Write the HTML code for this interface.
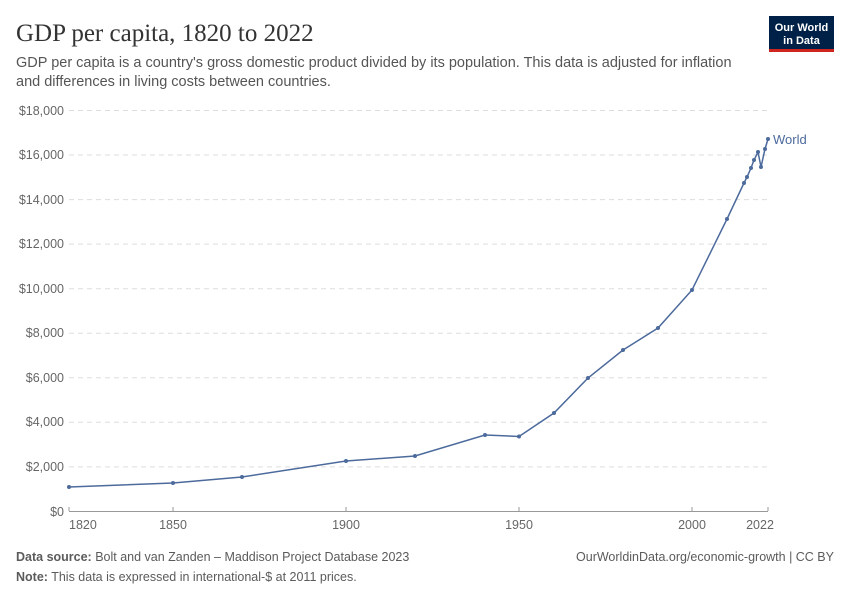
<!DOCTYPE html>
<html><head><meta charset="utf-8"><style>
body{margin:0;background:#fff;width:850px;height:600px;overflow:hidden;font-family:"Liberation Sans",sans-serif}
</style></head><body>
<svg width="850" height="600" xmlns="http://www.w3.org/2000/svg" font-family="Liberation Sans, sans-serif">
<text x="16" y="41" font-family="Liberation Serif, serif" font-size="25" fill="#333">GDP per capita, 1820 to 2022</text>
<text x="16" y="67" font-size="14.5" fill="#555">GDP per capita is a country's gross domestic product divided by its population. This data is adjusted for inflation</text>
<text x="16" y="86" font-size="14.5" fill="#555">and differences in living costs between countries.</text>
<rect x="769" y="16" width="65" height="34" fill="#002147"/>
<rect x="769" y="49" width="65" height="3" fill="#ce261e"/>
<text x="801.5" y="31" font-size="11" font-weight="bold" fill="#fff" text-anchor="middle">Our World</text>
<text x="801.5" y="44" font-size="11" font-weight="bold" fill="#fff" text-anchor="middle">in Data</text>
<g stroke="#ddd" stroke-dasharray="5,4" stroke-width="1">
<line x1="69" x2="768" y1="110.5" y2="110.5"/><line x1="69" x2="768" y1="155" y2="155"/>
<line x1="69" x2="768" y1="199.6" y2="199.6"/><line x1="69" x2="768" y1="244.1" y2="244.1"/>
<line x1="69" x2="768" y1="288.7" y2="288.7"/><line x1="69" x2="768" y1="333.2" y2="333.2"/>
<line x1="69" x2="768" y1="377.8" y2="377.8"/><line x1="69" x2="768" y1="422.3" y2="422.3"/>
<line x1="69" x2="768" y1="466.9" y2="466.9"/>
</g>
<line x1="69" x2="768" y1="511.5" y2="511.5" stroke="#999"/>
<g font-size="12.5" fill="#666" text-anchor="end">
<text x="64" y="115">$18,000</text><text x="64" y="159">$16,000</text><text x="64" y="204">$14,000</text>
<text x="64" y="248">$12,000</text><text x="64" y="293">$10,000</text><text x="64" y="337">$8,000</text>
<text x="64" y="382">$6,000</text><text x="64" y="426">$4,000</text><text x="64" y="471">$2,000</text>
<text x="64" y="516">$0</text>
</g>
<g stroke="#999"><line x1="69" x2="69" y1="507" y2="511"/><line x1="173" x2="173" y1="507" y2="511"/><line x1="346" x2="346" y1="507" y2="511"/><line x1="519" x2="519" y1="507" y2="511"/><line x1="692" x2="692" y1="507" y2="511"/><line x1="768" x2="768" y1="507" y2="511"/></g>
<g font-size="12.5" fill="#666" text-anchor="middle">
<text x="69" y="529" text-anchor="start">1820</text><text x="173" y="529">1850</text><text x="346" y="529">1900</text>
<text x="519" y="529">1950</text><text x="692" y="529">2000</text><text x="760" y="529">2022</text>
</g>
<polyline fill="none" stroke="#4c6a9c" stroke-width="1.5" points="69,487 173,483 242,477 346,461 415,456 485,435 519,436.5 554,413 588,378 623,350 658,328 692,290 727,219 744,183 747,177 751,168 754,160 758,152 761,167 765,149 768,139"/>
<g fill="#4c6a9c">
<circle cx="69" cy="487" r="2"/><circle cx="173" cy="483" r="2"/><circle cx="242" cy="477" r="2"/><circle cx="346" cy="461" r="2"/><circle cx="415" cy="456" r="2"/><circle cx="485" cy="435" r="2"/><circle cx="519" cy="436.5" r="2"/><circle cx="554" cy="413" r="2"/><circle cx="588" cy="378" r="2"/><circle cx="623" cy="350" r="2"/><circle cx="658" cy="328" r="2"/><circle cx="692" cy="290" r="2"/><circle cx="727" cy="219" r="2"/><circle cx="744" cy="183" r="2"/><circle cx="747" cy="177" r="2"/><circle cx="751" cy="168" r="2"/><circle cx="754" cy="160" r="2"/><circle cx="758" cy="152" r="2"/><circle cx="761" cy="167" r="2"/><circle cx="765" cy="149" r="2"/><circle cx="768" cy="139" r="2"/>
</g>
<text x="773" y="144" font-size="13" fill="#4c6a9c">World</text>
<text x="16" y="561" font-size="12.5" fill="#5b5b5b"><tspan font-weight="bold">Data source:</tspan> Bolt and van Zanden – Maddison Project Database 2023</text>
<text x="834" y="561" font-size="12.5" fill="#5b5b5b" text-anchor="end">OurWorldinData.org/economic-growth | CC BY</text>
<text x="16" y="581" font-size="12.5" fill="#5b5b5b"><tspan font-weight="bold">Note:</tspan> This data is expressed in international-$ at 2011 prices.</text>
</svg>
</body></html>
